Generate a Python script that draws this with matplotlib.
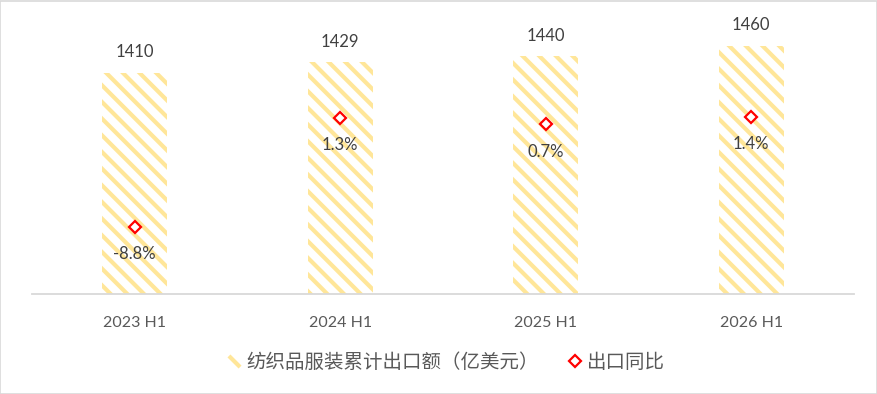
import matplotlib
matplotlib.use("Agg")
import matplotlib.pyplot as plt
from matplotlib.patches import Rectangle
from matplotlib.lines import Line2D

plt.rcParams['font.family'] = ['Lato', 'Noto Sans CJK SC', 'DejaVu Sans']
plt.rcParams['hatch.linewidth'] = 3.0

categories = ["2023 H1", "2024 H1", "2025 H1", "2026 H1"]
export_value = [1410, 1429, 1440, 1460]
yoy_pct = [-8.8, 1.3, 0.7, 1.4]
yoy_labels = ["-8.8%", "1.3%", "0.7%", "1.4%"]
bar_name = "纺织品服装累计出口额（亿美元）"
line_name = "出口同比"

W, H = 878, 394
fig = plt.figure(figsize=(W / 100, H / 100), dpi=100)
fig.patch.set_facecolor("white")
fig.add_artist(Rectangle((0.5 / W, 0.5 / H), 1 - 1.5 / W, 1 - 1.5 / H,
                         transform=fig.transFigure, fill=False,
                         edgecolor="#D9D9D9", linewidth=1.2))

ax = fig.add_axes([32 / W, (H - 294) / H, (854 - 32) / W, (294 - 24) / H])
x = list(range(len(categories)))
bar_color = "#FFE699"
bars = ax.bar(x, export_value, width=0.316, bottom=0, facecolor="white",
              edgecolor=bar_color, linewidth=0, hatch="\\\\")
ax.set_ylim(1000, 1500)
ax.set_xlim(-0.5, len(categories) - 0.5)
for s in ["top", "right", "left"]:
    ax.spines[s].set_visible(False)
ax.spines["bottom"].set_color("#D9D9D9")
ax.spines["bottom"].set_linewidth(1.3)
ax.set_yticks([])
ax.set_xticks(x)
ax.set_xticklabels(categories, fontsize=11.5, color="#595959")
ax.tick_params(axis="x", length=0, pad=16)

for xi, v in zip(x, export_value):
    ax.annotate(str(v), (xi, v), xytext=(0, 14.5), textcoords="offset points",
                ha="center", va="center", fontsize=12, color="#404040",
                annotation_clip=False)

ax2 = ax.twinx()
ax2.set_ylim(-15, 10)
ax2.axis("off")
ax2.plot(x, yoy_pct, linestyle="none", marker="D", markersize=6,
         markerfacecolor="white", markeredgecolor="#FF0000", markeredgewidth=1.6)
for xi, v, lab in zip(x, yoy_pct, yoy_labels):
    ax2.annotate(lab, (xi, v), xytext=(0, -19.5), textcoords="offset points",
                 ha="center", va="center", fontsize=12, color="#404040")

handles = [Line2D([], [], linestyle="none", marker=[(-1, 1), (1, -1)],
                  markersize=8, markeredgecolor=bar_color, markeredgewidth=3.0),
           Line2D([], [], linestyle="none", marker="D", markersize=6,
                  markerfacecolor="white", markeredgecolor="#FF0000",
                  markeredgewidth=1.6)]
leg = fig.legend(handles, [bar_name, line_name], loc="center",
                 bbox_to_anchor=(446 / W, (H - 362) / H), ncol=2, frameon=False,
                 handlelength=0.7, handletextpad=0.3, columnspacing=1.5,
                 prop={'family': ['Noto Sans CJK SC', 'DejaVu Sans'], 'size': 14})
for t in leg.get_texts():
    t.set_color("#595959")

fig.savefig("out.png", dpi=100, facecolor="white")
